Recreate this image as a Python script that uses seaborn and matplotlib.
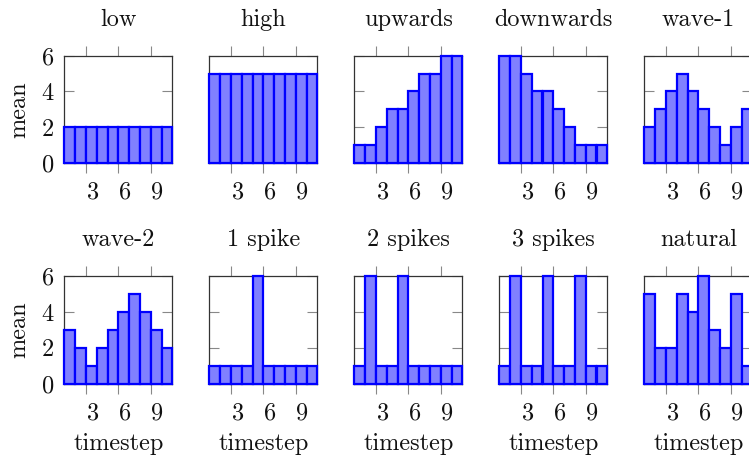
import numpy as np
import pandas as pd
import matplotlib
matplotlib.use("Agg")
import matplotlib.pyplot as plt
import seaborn as sns
from matplotlib.ticker import FixedLocator, NullFormatter, FixedFormatter

# ---------------- data ----------------
timesteps = [1, 2, 3, 4, 5, 6, 7, 8, 9, 10]
titles = ["low", "high", "upwards", "downwards", "wave-1",
          "wave-2", "1 spike", "2 spikes", "3 spikes", "natural"]
low = [2, 2, 2, 2, 2, 2, 2, 2, 2, 2]
high = [5, 5, 5, 5, 5, 5, 5, 5, 5, 5]
upwards = [1, 1, 2, 3, 3, 4, 5, 5, 6, 6]
downwards = [6, 6, 5, 4, 4, 3, 2, 1, 1, 1]
wave_1 = [2, 3, 4, 5, 4, 3, 2, 1, 2, 3]
wave_2 = [3, 2, 1, 2, 3, 4, 5, 4, 3, 2]
spike_1 = [1, 1, 1, 1, 6, 1, 1, 1, 1, 1]
spikes_2 = [1, 6, 1, 1, 6, 1, 1, 1, 1, 1]
spikes_3 = [1, 6, 1, 1, 6, 1, 1, 6, 1, 1]
natural = [5, 2, 2, 5, 4, 6, 3, 2, 5, 1]
series = [low, high, upwards, downwards, wave_1,
          wave_2, spike_1, spikes_2, spikes_3, natural]
xtick_values = [3, 6, 9]
xtick_labels = ["3", "6", "9"]
ytick_values = [0, 2, 4, 6]
ylabel = "mean"
xlabel = "timestep"

# ---------------- style ----------------
sns.set_theme(style="white")
plt.rcParams['font.family'] = ['cmr10', 'DejaVu Serif']
plt.rcParams['mathtext.fontset'] = 'cm'
plt.rcParams['axes.formatter.use_mathtext'] = True

FS = 17.5
W, H = 749, 459
fig = plt.figure(figsize=(W / 100, H / 100), dpi=100)
fig.patch.set_facecolor("white")

ax_w, ax_h = 108, 107.3
lefts = [64.3 + 145 * i for i in range(5)]
tops = [55.7, 276.3]
bins = [float(t) for t in timesteps] + [float(timesteps[-1] + 1)]

for k, (name, vals) in enumerate(zip(titles, series)):
    r, c = divmod(k, 5)
    left = lefts[c]
    top = tops[r]
    ax = fig.add_axes([left / W, 1 - (top + ax_h) / H, ax_w / W, ax_h / H])
    df = pd.DataFrame({"timestep": timesteps, "mean": vals})
    sns.histplot(data=df, x="timestep", weights="mean", bins=bins, ax=ax,
                 facecolor="#8080ff", edgecolor="#0000ff", linewidth=1.6,
                 alpha=1, zorder=3, clip_on=False)
    ax.set_xlim(bins[0], bins[-1])
    ax.set_ylim(0, 6)
    ax.set_facecolor("white")

    # x ticks: marks at 3,6,9 outside (top & bottom); labels shifted half-interval
    ax.xaxis.set_major_locator(FixedLocator(xtick_values))
    ax.xaxis.set_major_formatter(NullFormatter())
    ax.xaxis.set_minor_locator(FixedLocator([v + 0.62 for v in xtick_values]))
    ax.xaxis.set_minor_formatter(FixedFormatter(xtick_labels))
    ax.tick_params(axis='x', which='major', direction='out', length=7.5,
                   width=0.8, color='#888888', top=True, bottom=True,
                   labelbottom=False, labeltop=False)
    ax.tick_params(axis='x', which='minor', length=0, pad=13.5,
                   labelsize=FS, bottom=True, top=False, labelbottom=True,
                   labelcolor='#111111')

    ax.yaxis.set_major_locator(FixedLocator(ytick_values))
    ax.tick_params(axis='y', which='major', direction='in', length=7.5,
                   width=0.8, color='#888888', left=True, right=True,
                   pad=7.4, labelsize=FS, labelleft=(c == 0),
                   labelcolor='#111111')
    ax.tick_params(axis='y', which='minor', left=False, right=False)

    for sp in ax.spines.values():
        sp.set_color('#333333')
        sp.set_linewidth(0.9)
        sp.set_visible(True)

    ax.set_title(name, y=1 + 30 / ax_h, pad=0, fontsize=FS, color='#111111')

    if c == 0:
        ax.set_ylabel(ylabel, fontsize=FS, color='#111111')
        ax.yaxis.label.set_verticalalignment('baseline')
        ax.yaxis.set_label_coords((25 - 64.3) / ax_w, 0.5)
    else:
        ax.set_ylabel("")
    if r == 1:
        ax.set_xlabel(xlabel, fontsize=FS, color='#111111')
        ax.xaxis.label.set_verticalalignment('baseline')
        ax.xaxis.set_label_coords(0.5, -(450 - 383.3) / ax_h)
    else:
        ax.set_xlabel("")

fig.savefig("out.png", dpi=100)
